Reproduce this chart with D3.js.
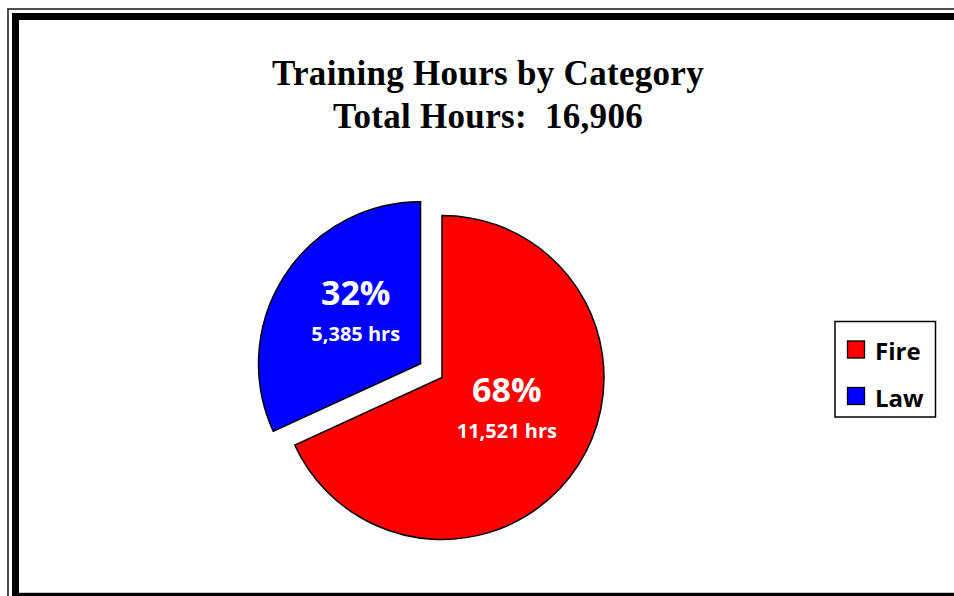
<!DOCTYPE html>
<html>
<head>
<meta charset="utf-8">
<script src="https://cdn.jsdelivr.net/npm/d3@7"></script>
<style>
    body { margin: 0; background: #fff; }
    svg { display: block; }
</style>
</head>
<body>
<div id="chart"></div>
<script>
// Data
const categories = ["Fire", "Law"];
const hours = [11521, 5385];
const sliceColors = ["#ff0000", "#0000ff"];
const titleLines = ["Training Hours by Category", "Total Hours:  "];

const svgWidth = 954;
const svgHeight = 596;

const svg = d3.select("#chart")
    .append("svg")
    .attr("width", svgWidth)
    .attr("height", svgHeight);

// Double frame round the chart (it runs off the right edge)
svg.append("rect")
    .attr("x", 8).attr("y", 9)
    .attr("width", 1000).attr("height", 1000)
    .attr("fill", "none")
    .attr("stroke", "#222")
    .attr("stroke-width", 1.6);

svg.append("rect")
    .attr("x", 15.5).attr("y", 16.5)
    .attr("width", 1000).attr("height", 579.8)
    .attr("fill", "none")
    .attr("stroke", "#000")
    .attr("stroke-width", 7);

// Title
const total = d3.sum(hours);
const title = svg.append("text")
    .attr("text-anchor", "middle")
    .attr("font-family", "'Liberation Serif', 'Times New Roman', serif")
    .attr("font-weight", "bold")
    .attr("font-size", 35)
    .attr("letter-spacing", 0.3)
    .attr("fill", "#000")
    .style("white-space", "pre");

title.append("tspan").attr("x", 488).attr("y", 85).text(titleLines[0]);
title.append("tspan").attr("x", 488).attr("y", 128).text(titleLines[1] + d3.format(",")(total));

// Pie
const data = categories.map((c, i) => ({ name: c, value: hours[i], color: sliceColors[i] }));
const radius = 162;
const cx = 442, cy = 377.5;
const explode = 25.5;

const pie = d3.pie().sort(null).value(d => d.value);
const arc = d3.arc().innerRadius(0).outerRadius(radius);
const labelArc = d3.arc().innerRadius(77).outerRadius(77);

const arcs = pie(data);

const slices = svg.append("g")
    .attr("transform", `translate(${cx},${cy})`)
    .selectAll("g")
    .data(arcs)
    .join("g")
    .attr("transform", (d, i) => {
        if (i === 0) return null;
        const mid = (d.startAngle + d.endAngle) / 2;
        return `translate(${explode * Math.sin(mid)},${-explode * Math.cos(mid)})`;
    });

slices.append("path")
    .attr("d", arc)
    .attr("fill", d => d.data.color)
    .attr("stroke", "#000")
    .attr("stroke-width", 1.5)
    .attr("stroke-linejoin", "miter");

const labels = slices.append("text")
    .attr("text-anchor", "middle")
    .attr("font-family", "'Open Sans', sans-serif")
    .attr("font-weight", "bold")
    .attr("fill", "#fff")
    .attr("transform", d => `translate(${labelArc.centroid(d)})`);

labels.append("tspan")
    .attr("x", 0).attr("y", -17)
    .attr("font-size", 34)
    .text(d => Math.round(d.data.value / total * 100) + "%");

labels.append("tspan")
    .attr("x", 0).attr("y", 19)
    .attr("font-size", 20)
    .text(d => d3.format(",")(d.data.value) + " hrs");

// Legend
const legend = svg.append("g");

legend.append("rect")
    .attr("x", 835).attr("y", 321.5)
    .attr("width", 100.5).attr("height", 95.5)
    .attr("fill", "#fff")
    .attr("stroke", "#000")
    .attr("stroke-width", 1.5);

const legendY = d3.scalePoint()
    .domain(categories)
    .range([349.5, 396]);

const rows = legend.selectAll("g.row")
    .data(data)
    .join("g")
    .attr("class", "row")
    .attr("transform", d => `translate(0,${legendY(d.name)})`);

rows.append("rect")
    .attr("x", 847.5).attr("y", -8.5)
    .attr("width", 17).attr("height", 17)
    .attr("fill", d => d.color)
    .attr("stroke", "#000")
    .attr("stroke-width", 1.3);

rows.append("text")
    .attr("x", 875).attr("y", 10.5)
    .attr("font-family", "'Open Sans', sans-serif")
    .attr("font-weight", "bold")
    .attr("font-size", 24)
    .attr("fill", "#000")
    .text(d => d.name);
</script>
</body>
</html>
